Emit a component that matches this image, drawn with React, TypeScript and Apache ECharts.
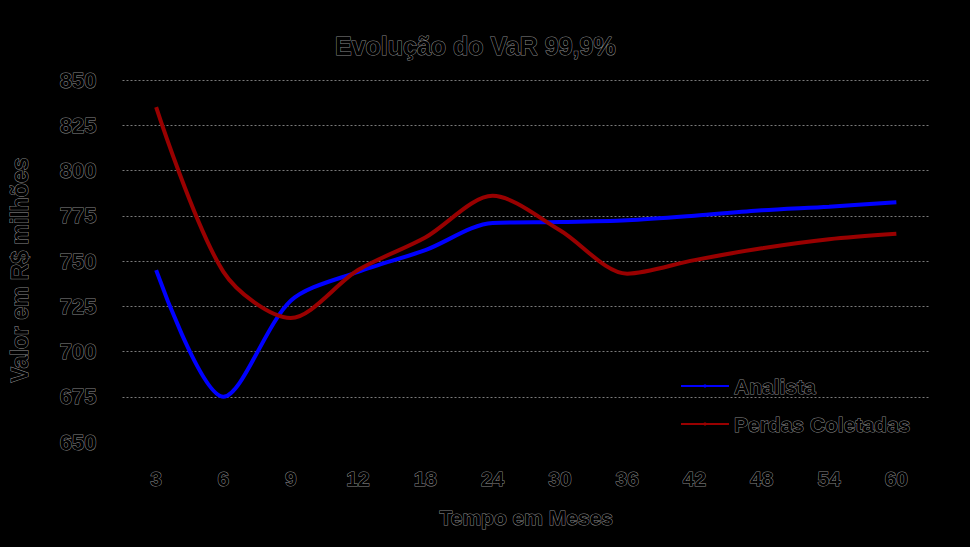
import React, { useEffect, useRef } from "react";
import * as echarts from "echarts";

const categories = ["3", "6", "9", "12", "18", "24", "30", "36", "42", "48", "54", "60"];
const analista = [745, 675, 728, 744, 756, 771, 771.5, 772.5, 775, 778, 780, 782.5];
const perdasColetadas = [835, 744, 718.5, 745, 763, 786, 767, 743, 750.5, 757, 762, 765];
const yMin = 650;
const yMax = 850;
const yStep = 25;

const FONT = "'Liberation Sans', Arial, sans-serif";
const txt = {
  color: "#000",
  fontFamily: FONT,
  fontWeight: "bold" as const,
  textBorderColor: "#8a8a8a",
  textBorderWidth: 1,
};

export default function App() {
  const ref = useRef<HTMLDivElement>(null);
  useEffect(() => {
    document.body.style.margin = "0";
    const chart = echarts.init(ref.current!, null, { renderer: "svg" });
    chart.setOption({
      animation: false,
      backgroundColor: "#000",
      title: {
        text: "Evolução do VaR 99,9%",
        left: 330,
        top: 28,
        textStyle: { ...txt, fontSize: 25 },
      },
      grid: { left: 119, right: 40, top: 80, bottom: 105 },
      legend: {
        orient: "vertical",
        left: 675,
        top: 370,
        itemWidth: 48,
        itemHeight: 4,
        itemGap: 16,
        textStyle: { ...txt, fontSize: 21 },
        data: ["Analista", "Perdas Coletadas"],
      },
      xAxis: {
        type: "category",
        data: categories,
        boundaryGap: true,
        axisLine: { show: false },
        axisTick: { show: false },
        axisLabel: { ...txt, fontSize: 21, margin: 26 },
        name: "Tempo em Meses",
        nameLocation: "middle",
        nameGap: 65,
        nameTextStyle: { ...txt, fontSize: 21 },
      },
      yAxis: {
        type: "value",
        min: yMin,
        max: yMax,
        interval: yStep,
        axisLine: { show: false },
        axisTick: { show: false },
        axisLabel: { ...txt, fontSize: 22, margin: 26 },
        splitLine: {
          show: true,
          showMinLine: false,
          lineStyle: { color: "#7a7a7a", type: [2, 2], width: 1 },
        },
        name: "Valor em R$ milhões",
        nameLocation: "middle",
        nameGap: 91,
        nameRotate: 90,
        nameTextStyle: { ...txt, fontSize: 23, padding: [0, 18, 0, 0] },
      },
      series: [
        {
          name: "Analista",
          type: "line",
          data: analista,
          smooth: 0.3,
          symbol: "none",
          itemStyle: { color: "#0000ff" },
          lineStyle: { color: "#0000ff", width: 4 },
        },
        {
          name: "Perdas Coletadas",
          type: "line",
          data: perdasColetadas,
          smooth: 0.3,
          symbol: "none",
          itemStyle: { color: "#990000" },
          lineStyle: { color: "#990000", width: 4 },
        },
      ],
    });
    return () => chart.dispose();
  }, []);
  return <div ref={ref} style={{ width: 970, height: 547 }} />;
}
